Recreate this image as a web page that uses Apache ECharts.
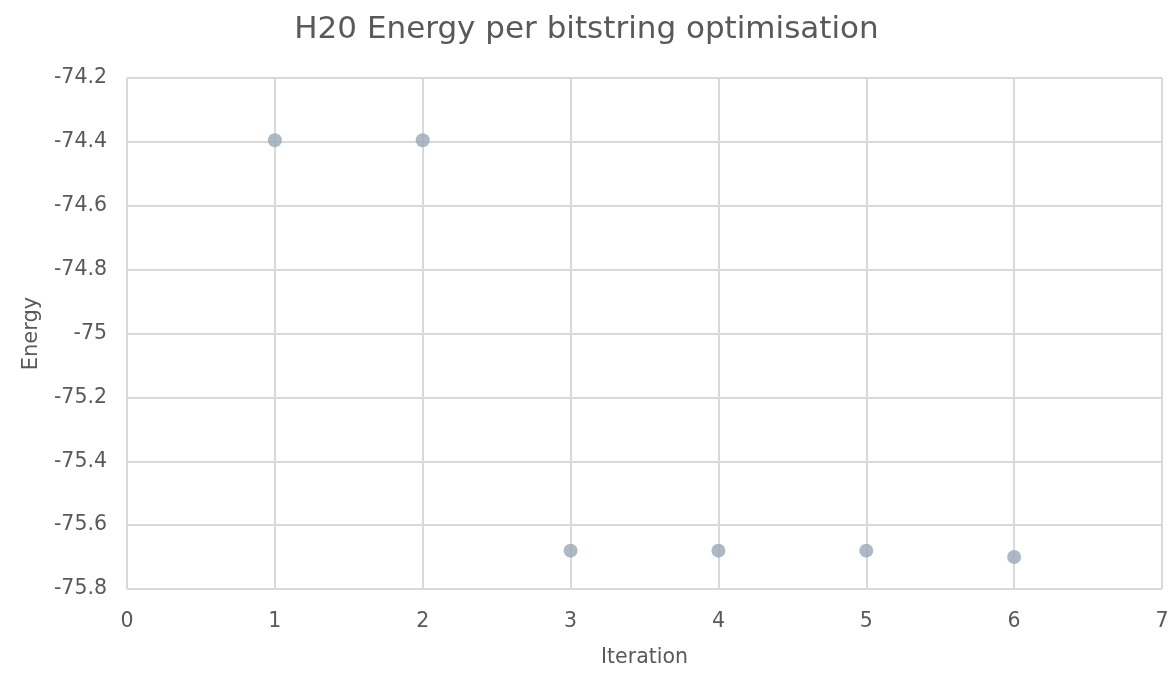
<!DOCTYPE html>
<html><head><meta charset="utf-8">
<script src="https://cdn.jsdelivr.net/npm/echarts@6/dist/echarts.min.js"></script>
<style>html,body{margin:0;padding:0;background:#fff}#c{width:1173px;height:673px}</style>
</head><body><div id="c"></div>
<script>
const iterations = [1, 2, 3, 4, 5, 6];
const energies = [-74.395, -74.395, -75.68, -75.68, -75.68, -75.70];
const titleText = 'H20 Energy per bitstring optimisation';
const xName = 'Iteration';
const yName = 'Energy';

const chart = echarts.init(document.getElementById('c'));
const font = '"DejaVu Sans", sans-serif';
chart.setOption({
  animation: false,
  title: { text: titleText, left: 'center', top: 9,
    textStyle: { fontFamily: font, fontSize: 31, fontWeight: 'normal', color: '#595959' } },
  grid: { left: 127, right: 11, top: 78, bottom: 83, containLabel: false },
  xAxis: {
    type: 'value', min: 0, max: 7, interval: 1,
    name: xName, nameLocation: 'middle', nameGap: 58,
    nameTextStyle: { fontFamily: font, fontSize: 20.5, color: '#595959' },
    axisLine: { show: false }, axisTick: { show: false },
    axisLabel: { fontFamily: font, fontSize: 20.5, color: '#595959', margin: 22 },
    splitLine: { show: true, lineStyle: { color: '#d9d9d9', width: 2 } }
  },
  yAxis: {
    type: 'value', min: -75.8, max: -74.2, interval: 0.2,
    name: yName, nameLocation: 'middle', nameGap: 85, nameRotate: 90,
    nameTextStyle: { fontFamily: font, fontSize: 21, color: '#595959' },
    axisLine: { show: false }, axisTick: { show: false },
    axisLabel: { fontFamily: font, fontSize: 20.5, color: '#595959', margin: 20,
      formatter: v => String(Math.round(v * 10) / 10) },
    splitLine: { show: true, lineStyle: { color: '#d9d9d9', width: 2 } }
  },
  series: [{
    type: 'scatter', symbol: 'circle', symbolSize: 14,
    itemStyle: { color: '#9aa8b8' },
    data: iterations.map((x, i) => [x, energies[i]])
  }]
});
</script></body></html>
